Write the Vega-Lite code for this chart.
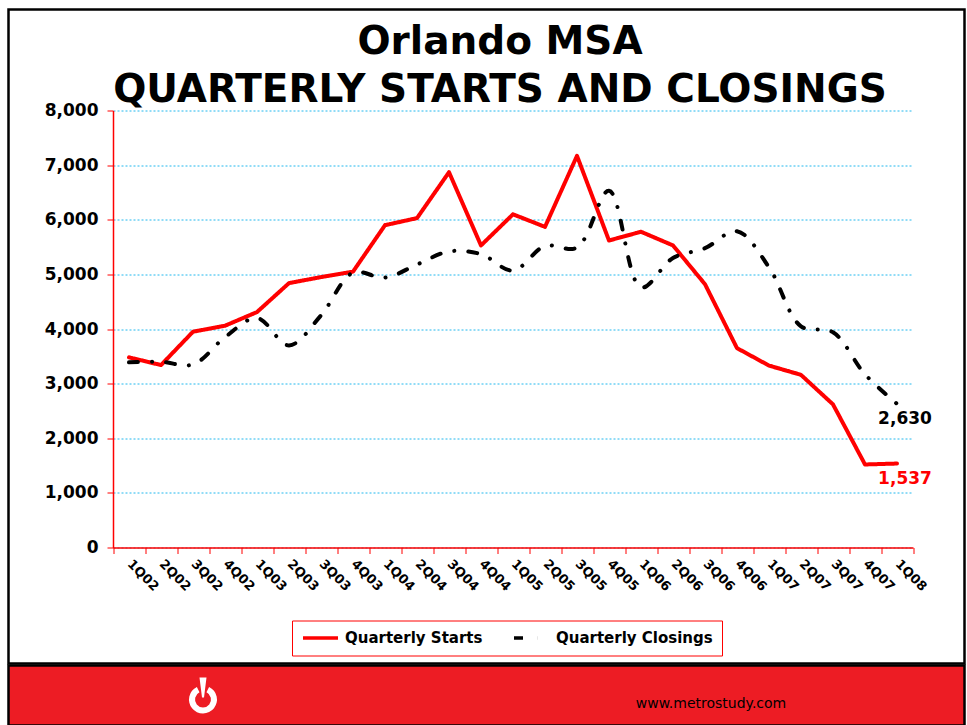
{
  "$schema": "https://vega.github.io/schema/vega-lite/v6.json",
  "background": "#FFFFFF",
  "padding": {"left": 1.5, "top": 7.5, "right": 0, "bottom": 0},
  "spacing": -5.5,
  "config": {
    "font": "DejaVu Sans",
    "legend": {
      "orient": "none",
      "legendX": 283.5,
      "legendY": 611,
      "direction": "horizontal",
      "symbolType": "stroke",
      "symbolSize": 1225,
      "symbolStrokeWidth": 3.5,
      "clipHeight": 17,
      "labelFont": "DejaVu Sans",
      "labelFontSize": 15,
      "labelFontWeight": "bold",
      "labelColor": "#000000",
      "labelOffset": 5,
      "labelLimit": 300,
      "columnPadding": 29,
      "padding": 9,
      "strokeColor": "#FF0000",
      "fillColor": "#FFFFFF"
    }
  },
  "vconcat": [
    {
      "width": 956,
      "height": 654,
      "view": {"fill": "#FFFFFF", "stroke": "#000000", "strokeWidth": 2.5},
      "title": {
        "text": ["Orlando MSA", "QUARTERLY STARTS AND CLOSINGS"],
        "font": "DejaVu Sans",
        "fontSize": 39,
        "fontWeight": "bold",
        "color": "#000000",
        "lineHeight": 48,
        "anchor": "middle",
        "baseline": "bottom",
        "offset": -139,
        "dx": 13.5
      },
      "data": {
        "values": [
          {"quarter": "1Q02", "series": "Quarterly Starts", "value": 3480},
          {"quarter": "2Q02", "series": "Quarterly Starts", "value": 3340},
          {"quarter": "3Q02", "series": "Quarterly Starts", "value": 3950},
          {"quarter": "4Q02", "series": "Quarterly Starts", "value": 4060},
          {"quarter": "1Q03", "series": "Quarterly Starts", "value": 4310},
          {"quarter": "2Q03", "series": "Quarterly Starts", "value": 4840},
          {"quarter": "3Q03", "series": "Quarterly Starts", "value": 4950},
          {"quarter": "4Q03", "series": "Quarterly Starts", "value": 5050},
          {"quarter": "1Q04", "series": "Quarterly Starts", "value": 5900},
          {"quarter": "2Q04", "series": "Quarterly Starts", "value": 6030},
          {"quarter": "3Q04", "series": "Quarterly Starts", "value": 6870},
          {"quarter": "4Q04", "series": "Quarterly Starts", "value": 5530},
          {"quarter": "1Q05", "series": "Quarterly Starts", "value": 6100},
          {"quarter": "2Q05", "series": "Quarterly Starts", "value": 5870},
          {"quarter": "3Q05", "series": "Quarterly Starts", "value": 7170},
          {"quarter": "4Q05", "series": "Quarterly Starts", "value": 5620},
          {"quarter": "1Q06", "series": "Quarterly Starts", "value": 5780},
          {"quarter": "2Q06", "series": "Quarterly Starts", "value": 5530},
          {"quarter": "3Q06", "series": "Quarterly Starts", "value": 4820},
          {"quarter": "4Q06", "series": "Quarterly Starts", "value": 3650},
          {"quarter": "1Q07", "series": "Quarterly Starts", "value": 3330},
          {"quarter": "2Q07", "series": "Quarterly Starts", "value": 3160},
          {"quarter": "3Q07", "series": "Quarterly Starts", "value": 2620},
          {"quarter": "4Q07", "series": "Quarterly Starts", "value": 1520},
          {"quarter": "1Q08", "series": "Quarterly Starts", "value": 1537},
          {"quarter": "1Q02", "series": "Quarterly Closings", "value": 3390},
          {"quarter": "2Q02", "series": "Quarterly Closings", "value": 3400},
          {"quarter": "3Q02", "series": "Quarterly Closings", "value": 3350},
          {"quarter": "4Q02", "series": "Quarterly Closings", "value": 3850},
          {"quarter": "1Q03", "series": "Quarterly Closings", "value": 4200},
          {"quarter": "2Q03", "series": "Quarterly Closings", "value": 3700},
          {"quarter": "3Q03", "series": "Quarterly Closings", "value": 4250},
          {"quarter": "4Q03", "series": "Quarterly Closings", "value": 5030},
          {"quarter": "1Q04", "series": "Quarterly Closings", "value": 4940},
          {"quarter": "2Q04", "series": "Quarterly Closings", "value": 5180},
          {"quarter": "3Q04", "series": "Quarterly Closings", "value": 5420},
          {"quarter": "4Q04", "series": "Quarterly Closings", "value": 5370},
          {"quarter": "1Q05", "series": "Quarterly Closings", "value": 5070},
          {"quarter": "2Q05", "series": "Quarterly Closings", "value": 5520},
          {"quarter": "3Q05", "series": "Quarterly Closings", "value": 5490},
          {"quarter": "4Q05", "series": "Quarterly Closings", "value": 6530},
          {"quarter": "1Q06", "series": "Quarterly Closings", "value": 4760},
          {"quarter": "2Q06", "series": "Quarterly Closings", "value": 5300},
          {"quarter": "3Q06", "series": "Quarterly Closings", "value": 5480},
          {"quarter": "4Q06", "series": "Quarterly Closings", "value": 5790},
          {"quarter": "1Q07", "series": "Quarterly Closings", "value": 5130},
          {"quarter": "2Q07", "series": "Quarterly Closings", "value": 4050},
          {"quarter": "3Q07", "series": "Quarterly Closings", "value": 3940},
          {"quarter": "4Q07", "series": "Quarterly Closings", "value": 3170},
          {"quarter": "1Q08", "series": "Quarterly Closings", "value": 2630}
        ]
      },
      "encoding": {
        "x": {
          "field": "quarter",
          "type": "ordinal",
          "bandPosition": 0.5,
          "scale": {
            "type": "band",
            "domain": ["1Q02","2Q02","3Q02","4Q02","1Q03","2Q03","3Q03","4Q03","1Q04","2Q04","3Q04","4Q04","1Q05","2Q05","3Q05","4Q05","1Q06","2Q06","3Q06","4Q06","1Q07","2Q07","3Q07","4Q07","1Q08"],
            "range": [104.5, 904.5],
            "paddingInner": 0,
            "paddingOuter": 0
          },
          "axis": {
            "title": null,
            "orient": "bottom",
            "offset": -116,
            "tickBand": "extent",
            "labelAngle": 45,
            "labelAlign": "left",
            "labelBaseline": "middle",
            "labelFont": "DejaVu Sans",
            "labelFontSize": 13,
            "labelFontWeight": "bold",
            "labelColor": "#000000",
            "labelPadding": 8,
            "labelOverlap": false,
            "labelBound": false,
            "domainColor": "#FF0000",
            "domainWidth": 1.5,
            "tickColor": "#FF0000",
            "tickSize": 6,
            "tickWidth": 1,
            "grid": false
          }
        },
        "y": {
          "field": "value",
          "type": "quantitative",
          "scale": {"domain": [0, 8000], "range": [538, 101], "nice": false, "zero": true},
          "axis": {
            "title": null,
            "orient": "left",
            "offset": -104.5,
            "values": [0, 1000, 2000, 3000, 4000, 5000, 6000, 7000, 8000],
            "format": ",.0f",
            "labelFont": "DejaVu Sans",
            "labelFontSize": 17,
            "labelFontWeight": "bold",
            "labelColor": "#000000",
            "labelPadding": 9,
            "domainColor": "#FF0000",
            "domainWidth": 1.5,
            "tickColor": "#FF0000",
            "tickSize": 6,
            "tickWidth": 1,
            "grid": true,
            "gridColor": "#22B8EE",
            "gridDash": [2, 2],
            "gridWidth": 1,
            "gridOpacity": 1
          }
        }
      },
      "layer": [
        {
          "transform": [{"filter": "datum.series === 'Quarterly Starts'"}],
          "mark": {"type": "line", "strokeWidth": 4, "strokeJoin": "round", "strokeCap": "round"},
          "encoding": {
            "color": {"field": "series", "type": "nominal", "scale": {"domain": ["Quarterly Starts", "Quarterly Closings"], "range": ["#FF0000", "#000000"]}, "legend": {"title": null}},
            "strokeDash": {"field": "series", "type": "nominal", "scale": {"domain": ["Quarterly Starts", "Quarterly Closings"], "range": [[1, 0], [9, 14, 0.1, 14]]}, "legend": {"title": null}}
          }
        },
        {
          "transform": [{"filter": "datum.series === 'Quarterly Closings'"}],
          "mark": {"type": "line", "strokeWidth": 4, "interpolate": "catmull-rom", "strokeCap": "round"},
          "encoding": {
            "color": {"field": "series", "type": "nominal", "scale": {"domain": ["Quarterly Starts", "Quarterly Closings"], "range": ["#FF0000", "#000000"]}, "legend": {"title": null}},
            "strokeDash": {"field": "series", "type": "nominal", "scale": {"domain": ["Quarterly Starts", "Quarterly Closings"], "range": [[1, 0], [9, 14, 0.1, 14]]}, "legend": {"title": null}}
          }
        },
        {
          "transform": [{"filter": "datum.quarter === '1Q08' && datum.series === 'Quarterly Closings'"}],
          "mark": {"type": "text", "font": "DejaVu Sans", "fontSize": 17, "fontWeight": "bold", "color": "#000000", "dx": 8, "dy": 15},
          "encoding": {"text": {"field": "value", "type": "quantitative", "format": ","}}
        },
        {
          "transform": [{"filter": "datum.quarter === '1Q08' && datum.series === 'Quarterly Starts'"}],
          "mark": {"type": "text", "font": "DejaVu Sans", "fontSize": 17, "fontWeight": "bold", "color": "#FF0000", "dx": 8, "dy": 15},
          "encoding": {"text": {"field": "value", "type": "quantitative", "format": ","}}
        }
      ]
    },
    {
      "width": 956,
      "height": 60,
      "view": {"fill": "#ED1C24", "stroke": "#000000", "strokeWidth": 2.5},
      "data": {"values": [{"kind": "logo", "label": ""}, {"kind": "url", "label": "www.metrostudy.com"}]},
      "encoding": {
        "x": {"field": "kind", "type": "nominal", "scale": {"type": "point", "domain": ["logo", "url"], "range": [194.5, 702.5], "padding": 0}, "axis": null}
      },
      "layer": [
        {
          "transform": [{"filter": "datum.kind === 'logo'"}],
          "mark": {"type": "arc", "radius": 14, "radius2": 8, "theta": 0.45, "theta2": 5.83, "color": "#FFFFFF", "yOffset": 4}
        },
        {
          "transform": [{"filter": "datum.kind === 'logo'"}],
          "mark": {"type": "point", "shape": "M-0.35,-1L0.35,-1L0.1,1L-0.1,1Z", "size": 400, "filled": true, "color": "#FFFFFF", "opacity": 1, "yOffset": -8}
        },
        {
          "transform": [{"filter": "datum.kind === 'url'"}],
          "mark": {"type": "text", "font": "DejaVu Sans", "fontSize": 14, "color": "#000000", "yOffset": 8},
          "encoding": {"text": {"field": "label"}}
        }
      ]
    }
  ]
}
